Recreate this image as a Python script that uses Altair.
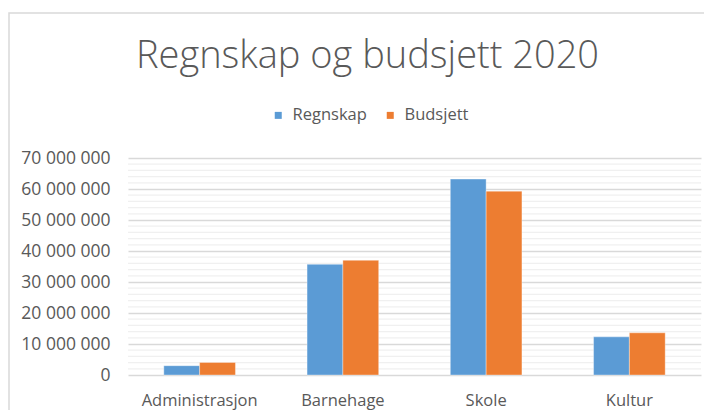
import altair as alt
import pandas as pd

title_text = "Regnskap og budsjett 2020"
categories = ["Administrasjon", "Barnehage", "Skole", "Kultur"]
series = ["Regnskap", "Budsjett"]
regnskap = [3000000, 35700000, 63200000, 12300000]
budsjett = [4050000, 37000000, 59300000, 13600000]
major_ticks = [0, 10000000, 20000000, 30000000, 40000000, 50000000, 60000000, 70000000]
minor_ticks = [v for v in range(2000000, 70000000, 2000000) if v % 10000000 != 0]
colors = ["#5B9BD5", "#ED7D31"]

rows = []
for c, r, b in zip(categories, regnskap, budsjett):
    rows.append({"cat": c, "series": "Regnskap", "value": r})
    rows.append({"cat": c, "series": "Budsjett", "value": b})
df = pd.DataFrame(rows)
minor_df = pd.DataFrame({"value": minor_ticks})

FONT = "Open Sans"
GRAY = "#595959"

yscale = alt.Scale(domain=[0, 70000000], nice=False, zero=True)
yaxis = alt.Axis(
    title=None, values=major_ticks, domain=False, ticks=False,
    grid=True, gridColor="#d9d9d9", gridWidth=1.3,
    labelFont=FONT, labelFontSize=17.5, labelColor=GRAY, labelPadding=18,
    labelExpr="replace(format(datum.value, ','), regexp(',', 'g'), ' ')",
)

minor = alt.Chart(minor_df).mark_rule(color="#f0f0f0", strokeWidth=1.3).encode(
    y=alt.Y("value:Q", scale=yscale, axis=yaxis)
)

bars = alt.Chart(df).mark_bar(stroke="white", strokeOpacity=0.35, strokeWidth=1).encode(
    x=alt.X(
        "cat:N",
        sort=categories,
        scale=alt.Scale(paddingInner=0.5, paddingOuter=0.25),
        axis=alt.Axis(
            title=None, labelAngle=0, domain=False, ticks=False, grid=False,
            labelFont=FONT, labelFontSize=16.5, labelColor=GRAY, labelPadding=17,
        ),
    ),
    xOffset=alt.XOffset("series:N", sort=series, scale=alt.Scale(paddingInner=0, paddingOuter=0)),
    y=alt.Y("value:Q", scale=yscale, axis=yaxis),
    color=alt.Color(
        "series:N",
        sort=series,
        scale=alt.Scale(domain=series, range=colors),
        legend=alt.Legend(
            title=None, orient="none", legendX=142, legendY=-51, direction="horizontal",
            symbolType="square", symbolSize=49, symbolStrokeWidth=0,
            labelFont=FONT, labelFontSize=16.5, labelColor=GRAY,
            labelOffset=6, columnPadding=15,
        ),
    ),
)

one = pd.DataFrame({"t": [title_text]})

title = alt.Chart(one).mark_text(
    font=FONT, fontSize=38, fontWeight=300, color=GRAY,
    align="center", baseline="alphabetic",
).encode(text="t:N", x=alt.value(239.5), y=alt.value(-90))

border = alt.Chart(one).mark_rect(
    fillOpacity=0, stroke="#d9d9d9", strokeWidth=1.5
).encode(
    x=alt.value(-119), x2=alt.value(800), y=alt.value(-145), y2=alt.value(400)
)

chart = alt.layer(minor, bars, title, border).properties(
    width=573,
    height=217,
    padding={"left": 120, "top": 150, "right": 3, "bottom": 35},
    autosize=alt.AutoSizeParams(type="none"),
).configure_view(stroke=None)

chart.save("out.html", embed_options={"renderer": "svg", "actions": False})
